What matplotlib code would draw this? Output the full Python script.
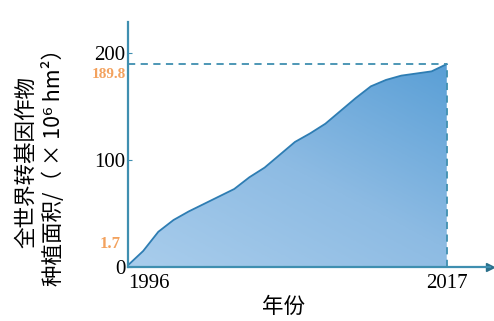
import numpy as np
import matplotlib
matplotlib.use("Agg")
import matplotlib.pyplot as plt
from matplotlib.colors import LinearSegmentedColormap

plt.rcParams['font.family'] = ['Noto Sans CJK SC', 'DejaVu Sans']

years = [1996, 1997, 1998, 1999, 2000, 2001, 2002, 2003, 2004, 2005, 2006,
         2007, 2008, 2009, 2010, 2011, 2012, 2013, 2014, 2015, 2016, 2017]
area = [1.7, 15, 33, 44, 52, 59, 66, 73, 84, 93, 105,
        117, 125, 134, 146, 158, 169, 175, 179, 181, 183, 189.8]
yticks = [0, 100, 200]
xticks = [1996, 2017]
xlabel = "年份"
ylabel = "全世界转基因作物\n种植面积/（ × 10⁶ hm²）"
first_label = "1.7"
last_label = "189.8"

axis_c = "#3f8fb0"
line_c = "#2e7db3"
orange = "#f3a25e"

fig = plt.figure(figsize=(4.94, 3.21), dpi=100)
ax = fig.add_axes([0.259, 0.168, 0.733, 0.763])
ax.set_xlim(1996, 2019.85)
ax.set_ylim(0, 229)

# gradient fill
cmap = LinearSegmentedColormap.from_list("g", ["#a9cdec", "#8dbbe3", "#5a9fd6"])
gx, gy = np.meshgrid(np.linspace(0, 1, 200), np.linspace(0, 1, 200))
grad = 0.45 * gx + 0.55 * gy
poly = ax.fill_between(years, area, 0, color="none")
im = ax.imshow(grad, extent=[years[0], years[-1], 0, max(area)], origin="lower",
               cmap=cmap, aspect="auto", zorder=1)
path = poly.get_paths()[0]
im.set_clip_path(path, transform=ax.transData)
ax.plot(years, area, color=line_c, lw=1.3, zorder=3)

# dashed guide lines
ax.plot([years[0], years[-1]], [area[-1], area[-1]], color=axis_c, lw=1.3,
        ls=(0, (4, 3)), zorder=3)
ax.plot([years[-1], years[-1]], [0, area[-1]], color=axis_c, lw=1.3,
        ls=(0, (4, 3)), zorder=3)

for s in ["top", "right"]:
    ax.spines[s].set_visible(False)
for s in ["left", "bottom"]:
    ax.spines[s].set_color(axis_c)
    ax.spines[s].set_linewidth(1.6)
    ax.spines[s].set_zorder(4)

ax.plot(1, 0, ">", color="#2a6f8a", ms=6, transform=ax.get_yaxis_transform(), clip_on=False)
ax.plot(0, 1, "^", color="#2a6f8a", ms=6, transform=ax.get_xaxis_transform(), clip_on=False)

ax.set_yticks(yticks)
ax.set_yticklabels([str(v) for v in yticks], fontfamily="Liberation Serif", fontsize=15)
ax.set_xticks(xticks)
ax.set_xticklabels([str(v) for v in xticks], fontfamily="Liberation Serif", fontsize=15)
ax.tick_params(axis="y", direction="in", length=3, color=axis_c, pad=2)
ax.tick_params(axis="x", length=0, pad=5)
ax.get_xticklabels()[0].set_ha("left")
ax.get_xticklabels()[0].set_x(1995.7)

ax.text(-0.006, area[-1] - 9.5, last_label, transform=ax.get_yaxis_transform(),
        ha="right", va="center", color=orange, fontsize=11, fontweight="bold",
        fontfamily="Liberation Serif")
ax.text(-0.02, 22, first_label, transform=ax.get_yaxis_transform(),
        ha="right", va="center", color=orange, fontsize=12, fontweight="bold",
        fontfamily="Liberation Serif")

ax.set_xlabel(xlabel, fontsize=15.5, labelpad=2, x=0.43)
ax.set_ylabel(ylabel, fontsize=15.5, linespacing=1.25,
              family=['Noto Sans CJK SC', 'DejaVu Sans'])
ax.yaxis.set_label_coords(-0.175, 0.43)

fig.savefig("out.png", dpi=100)
